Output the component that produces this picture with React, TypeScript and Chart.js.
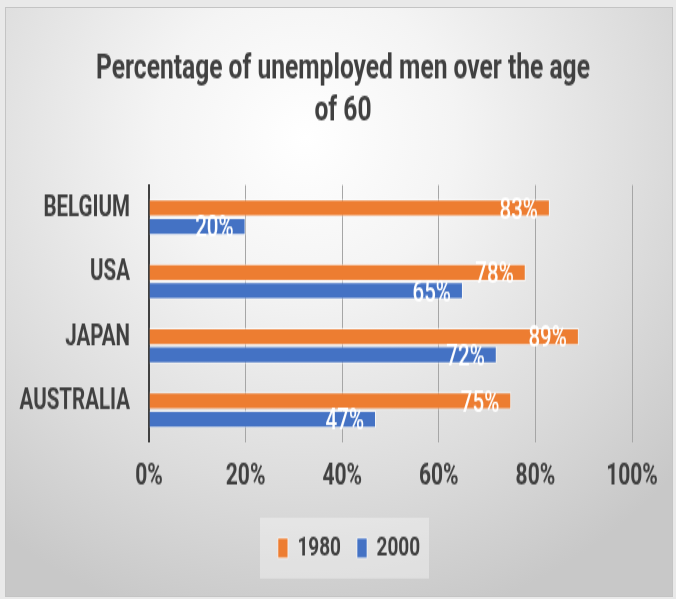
import React, { useEffect, useRef } from "react";
import { Chart, registerables } from "chart.js";

Chart.register(...registerables);

const categories = ["BELGIUM", "USA", "JAPAN", "AUSTRALIA"];
const seriesNames = ["1980", "2000"];
const values1980 = [83, 78, 89, 75];
const values2000 = [20, 65, 72, 47];
const xTickValues = [0, 20, 40, 60, 80, 100];
const titleLines = ["Percentage of unemployed men over the age", "of 60"];

const W = 676;
const H = 599;
const STRETCH = 1.45; // the source picture is stretched vertically
const CH = Math.round(H / STRETCH);

const FONT = "Roboto, 'Noto Sans', 'DejaVu Sans', sans-serif";
const TEXT = "#404040";
const ORANGE = "#ED7D31";
const BLUE = "#4472C4";

const dataLabels = {
  id: "dataLabels",
  afterDatasetsDraw(chart: any) {
    const ctx = chart.ctx;
    ctx.save();
    ctx.font = `500 20.5px ${FONT}`;
    ctx.fillStyle = "#ffffff";
    ctx.textAlign = "right";
    ctx.textBaseline = "middle";
    chart.data.datasets.forEach((ds: any, di: number) => {
      const meta = chart.getDatasetMeta(di);
      meta.data.forEach((el: any, i: number) => {
        ctx.fillText(ds.data[i] + "%", el.x - 12, el.y + 2);
      });
    });
    ctx.restore();
  },
};

const shiftBlocks = {
  id: "shiftBlocks",
  afterLayout(chart: any) {
    const lg = chart.legend;
    if (lg) {
      lg.left += 28;
      lg.right += 28;
    }
    const tb = chart.titleBlock;
    if (tb) {
      tb.left += 22;
      tb.right += 22;
    }
  },
  beforeDraw(chart: any) {
    const lg = chart.legend;
    if (!lg) return;
    const ctx = chart.ctx;
    const cx = (lg.left + lg.right) / 2;
    const cy = lg.top + 25.5;
    ctx.save();
    ctx.fillStyle = "rgba(255,255,255,0.35)";
    ctx.fillRect(cx - 89, cy - 21, 169, 42);
    ctx.restore();
  },
};

export default function App() {
  const ref = useRef<HTMLCanvasElement | null>(null);

  useEffect(() => {
    const canvas = ref.current;
    if (!canvas) return;
    const chart = new Chart(canvas, {
      type: "bar",
      data: {
        labels: categories,
        datasets: [
          {
            label: seriesNames[0],
            data: values1980,
            backgroundColor: ORANGE,
            borderColor: "rgba(255,255,255,0.6)",
            borderWidth: 1,
            barPercentage: 0.97,
            categoryPercentage: 0.57,
          },
          {
            label: seriesNames[1],
            data: values2000,
            backgroundColor: BLUE,
            borderColor: "rgba(255,255,255,0.6)",
            borderWidth: 1,
            barPercentage: 0.97,
            categoryPercentage: 0.57,
          },
        ],
      },
      options: {
        indexAxis: "y",
        responsive: false,
        maintainAspectRatio: false,
        animation: false,
        devicePixelRatio: 1,
        layout: { padding: { left: 10, right: 44, top: 0, bottom: 15.6 } },
        scales: {
          x: {
            type: "linear",
            min: 0,
            max: 100,
            afterBuildTicks: (s: any) => {
              s.ticks = xTickValues.map((v) => ({ value: v }));
            },
            afterFit: (s: any) => {
              s.height = 47.5;
            },
            grid: {
              color: "#a6a6a6",
              lineWidth: 1,
              drawTicks: true,
              tickLength: 7,
              tickColor: "rgba(0,0,0,0)",
            },
            border: { display: false },
            ticks: {
              padding: 4,
              color: TEXT,
              font: { family: FONT, size: 21, weight: "bold" },
              callback: (v: any) => v + "%",
            },
          },
          y: {
            type: "category",
            afterFit: (s: any) => {
              s.width = 139;
            },
            grid: { display: false, drawTicks: false },
            border: { display: true, color: "#404040", width: 2 },
            ticks: {
              padding: 19,
              labelOffset: -6,
              color: TEXT,
              font: { family: FONT, size: 20.5, weight: "bold" },
            },
          },
        },
        plugins: {
          tooltip: { enabled: false },
          title: {
            display: true,
            text: titleLines,
            color: TEXT,
            font: { family: FONT, size: 24.6, weight: "bold", lineHeight: 1.207 },
            padding: { top: 32.5, bottom: 35.7 },
          },
          legend: {
            display: true,
            position: "bottom",
            labels: {
              boxWidth: 10,
              boxHeight: 13.8,
              padding: 16,
              color: TEXT,
              font: { family: FONT, size: 19, weight: "bold" },
            },
          },
        },
      },
      plugins: [dataLabels, shiftBlocks],
    } as any);
    return () => chart.destroy();
  }, []);

  return (
    <div
      style={{
        position: "fixed",
        left: 0,
        top: 0,
        width: W,
        height: H,
        background: "#e9e9e9",
        overflow: "hidden",
      }}
    >
      <div
        style={{
          position: "absolute",
          left: 5,
          top: 7,
          width: 668,
          height: 590,
          boxSizing: "border-box",
          border: "1px solid #c4c4c4",
          background:
            "radial-gradient(ellipse 75% 85% at 45% 22%, #ffffff 0%, #f4f4f4 30%, #dcdcdc 70%, #c8c8c8 100%)",
        }}
      />
      <canvas
        ref={ref}
        width={W}
        height={CH}
        style={{ position: "absolute", left: 0, top: 0, width: W, height: H }}
      />
    </div>
  );
}
